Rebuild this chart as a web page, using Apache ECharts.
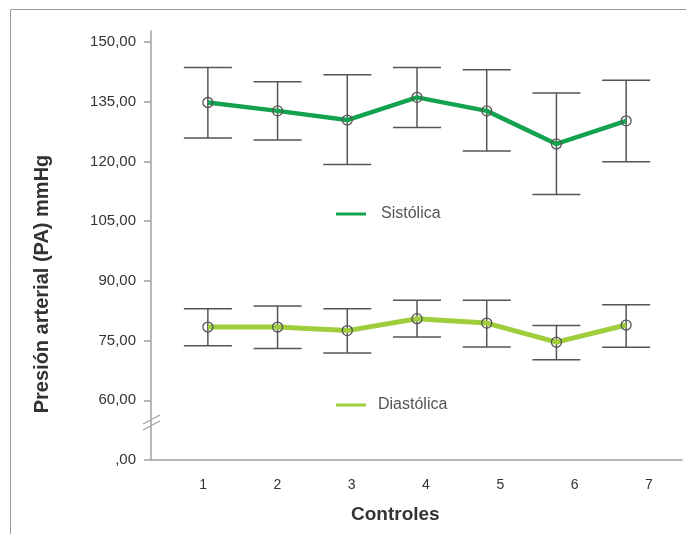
<!DOCTYPE html>
<html>
<head>
<meta charset="utf-8">
<script src="https://cdn.jsdelivr.net/npm/echarts@6/dist/echarts.min.js"></script>
<style>
  html, body { margin: 0; padding: 0; background: #fff; }
  #chart { width: 686px; height: 534px; }
</style>
</head>
<body>
<div id="chart"></div>
<script>
// categorías (controles)
const categories = ['1', '2', '3', '4', '5', '6', '7'];

// presión sistólica: media, límite superior e inferior
const sistolica = [134.8, 132.7, 130.4, 136.1, 132.7, 124.4, 130.2];
const sistolicaSup = [143.6, 140.0, 141.8, 143.6, 143.0, 137.2, 140.4];
const sistolicaInf = [125.9, 125.4, 119.2, 128.5, 122.6, 111.7, 119.9];

// presión diastólica
const diastolica = [78.4, 78.4, 77.5, 80.5, 79.4, 74.6, 78.9];
const diastolicaSup = [83.0, 83.7, 83.0, 85.1, 85.1, 78.8, 84.0];
const diastolicaInf = [73.7, 73.0, 71.9, 75.9, 73.4, 70.2, 73.3];

// eje Y cortado: 45 se muestra como ",00"
const yTicks = [45, 60, 75, 90, 105, 120, 135, 150];
const yLabels = [',00', '60,00', '75,00', '90,00', '105,00', '120,00', '135,00', '150,00'];

const FONT = 'Liberation Sans, Arial, sans-serif';
const AXIS_COLOR = '#a0a0a0';
const BAR_COLOR = '#555';
const SIS_COLOR = '#13a34f';
const DIA_COLOR = '#9fcd3c';

const chart = echarts.init(document.getElementById('chart'));

// barra de error (línea vertical con topes)
const errorItem = (params, api) => {
  const x = api.value(0);
  const hi = api.coord([x, api.value(1)]);
  const lo = api.coord([x, api.value(2)]);
  const half = 24;
  const style = { stroke: BAR_COLOR, lineWidth: 1.5 };
  return {
    type: 'group',
    children: [
      { type: 'line', shape: { x1: hi[0], y1: hi[1], x2: lo[0], y2: lo[1] }, style },
      { type: 'line', shape: { x1: hi[0] - half, y1: hi[1], x2: hi[0] + half, y2: hi[1] }, style },
      { type: 'line', shape: { x1: lo[0] - half, y1: lo[1], x2: lo[0] + half, y2: lo[1] }, style }
    ]
  };
};

const errData = (sup, inf) => categories.map((c, i) => [i, sup[i], inf[i]]);

const legendText = gap => ({
  formatter: name => '{t|' + name + '}',
  textStyle: {
    rich: { t: { color: '#555', fontSize: 16, fontFamily: FONT, padding: [0, 0, 0, gap] } }
  }
});

const option = {
  backgroundColor: '#fff',
  animation: false,
  grid: [
    // ejes visibles
    { left: 151, right: 4, top: 42, bottom: 74 },
    // línea del eje Y (más alta que 150)
    { left: 151, right: 4, top: 31, bottom: 74 },
    // datos
    { left: 173, width: 488, top: 42, bottom: 74 },
    // etiquetas de categorías
    { left: 166, width: 525, top: 42, bottom: 74 }
  ],
  xAxis: [
    {
      gridIndex: 0, type: 'value', min: 0, max: 1,
      axisLine: { show: true, lineStyle: { color: AXIS_COLOR, width: 1.5 } },
      axisTick: { show: false }, axisLabel: { show: false }, splitLine: { show: false }
    },
    { gridIndex: 1, type: 'value', show: false },
    { gridIndex: 2, type: 'category', data: categories, show: false },
    {
      gridIndex: 3, type: 'category', data: categories,
      axisLine: { show: false }, axisTick: { show: false },
      axisLabel: { color: '#333', fontSize: 14, fontFamily: FONT, margin: 18 }
    }
  ],
  yAxis: [
    {
      gridIndex: 0, type: 'value', min: 45, max: 150, interval: 15,
      axisLine: { show: false },
      axisTick: { show: true, length: 7, lineStyle: { color: AXIS_COLOR, width: 1.5 } },
      axisLabel: {
        color: '#333', fontSize: 15, fontFamily: FONT, margin: 15,
        formatter: v => {
          const i = yTicks.indexOf(v);
          return i >= 0 ? yLabels[i] : '';
        }
      },
      splitLine: { show: false }
    },
    {
      gridIndex: 1, type: 'value', min: 0, max: 1,
      axisLine: { show: true, lineStyle: { color: AXIS_COLOR, width: 1.5 } },
      axisTick: { show: false }, axisLabel: { show: false }, splitLine: { show: false }
    },
    { gridIndex: 2, type: 'value', min: 45, max: 150, show: false },
    { gridIndex: 3, type: 'value', min: 45, max: 150, show: false }
  ],
  legend: [
    Object.assign({
      data: [{ name: 'Sistólica', itemStyle: { color: SIS_COLOR, borderWidth: 0 } }],
      left: 331, top: 201,
      icon: 'rect', itemWidth: 30, itemHeight: 3
    }, legendText(10)),
    Object.assign({
      data: [{ name: 'Diastólica', itemStyle: { color: DIA_COLOR, borderWidth: 0 } }],
      left: 331, top: 392,
      icon: 'rect', itemWidth: 30, itemHeight: 3
    }, legendText(7))
  ],
  graphic: [
    // marco
    {
      type: 'polyline', silent: true,
      shape: { points: [[10.5, 534], [10.5, 9.5], [686, 9.5]] },
      style: { stroke: '#9a9a9a', lineWidth: 1, fill: null }
    },
    // marca de corte del eje Y
    {
      type: 'line', silent: true,
      shape: { x1: 143, y1: 424, x2: 160, y2: 415 },
      style: { stroke: AXIS_COLOR, lineWidth: 1.2 }
    },
    {
      type: 'line', silent: true,
      shape: { x1: 143, y1: 430, x2: 160, y2: 421 },
      style: { stroke: AXIS_COLOR, lineWidth: 1.2 }
    },
    {
      type: 'text', left: 351, top: 505,
      style: { text: 'Controles', fill: '#333', font: 'bold 19px ' + FONT }
    },
    {
      type: 'text', x: 42, y: 284, rotation: Math.PI / 2,
      style: {
        text: 'Presión arterial (PA) mmHg', fill: '#333',
        font: 'bold 20px ' + FONT, align: 'center', verticalAlign: 'middle'
      }
    }
  ],
  series: [
    {
      type: 'custom', xAxisIndex: 2, yAxisIndex: 2, z: 2,
      renderItem: errorItem, data: errData(sistolicaSup, sistolicaInf)
    },
    {
      type: 'custom', xAxisIndex: 2, yAxisIndex: 2, z: 2,
      renderItem: errorItem, data: errData(diastolicaSup, diastolicaInf)
    },
    {
      name: 'Sistólica', type: 'line', xAxisIndex: 2, yAxisIndex: 2, z: 3,
      data: sistolica, color: SIS_COLOR,
      lineStyle: { color: SIS_COLOR, width: 4.5 },
      symbol: 'circle', symbolSize: 10, showAllSymbol: true,
      itemStyle: { color: 'rgba(0,0,0,0)', borderColor: BAR_COLOR, borderWidth: 1.3 }
    },
    {
      name: 'Diastólica', type: 'line', xAxisIndex: 2, yAxisIndex: 2, z: 3,
      data: diastolica, color: DIA_COLOR,
      lineStyle: { color: DIA_COLOR, width: 5 },
      symbol: 'circle', symbolSize: 10, showAllSymbol: true,
      itemStyle: { color: 'rgba(0,0,0,0)', borderColor: BAR_COLOR, borderWidth: 1.3 }
    }
  ]
};

chart.setOption(option);
</script>
</body>
</html>
